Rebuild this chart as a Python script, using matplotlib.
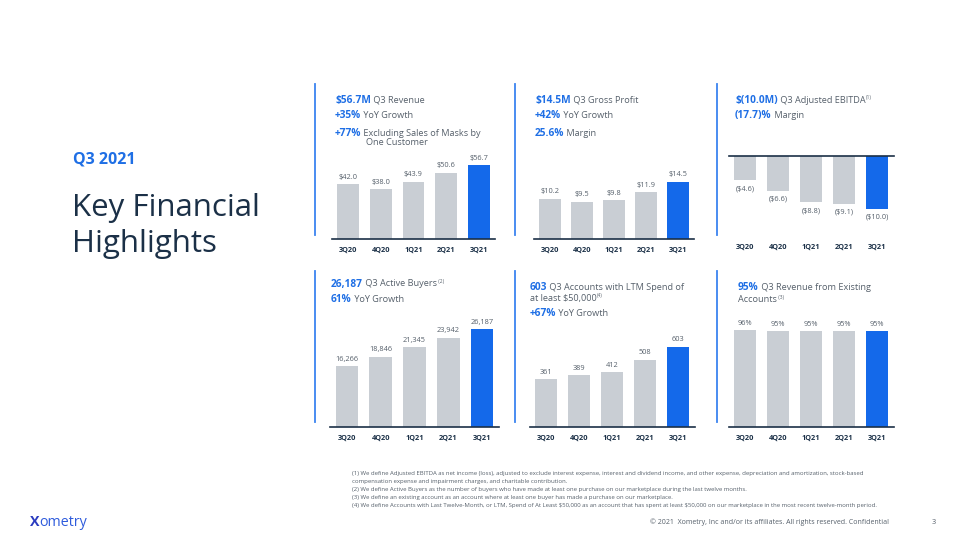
"""Q3 2021 key financial highlights: six small bar panels with headline text."""
import matplotlib
matplotlib.use("Agg")
import matplotlib.pyplot as plt
from matplotlib.lines import Line2D

plt.rcParams["font.family"] = ["Open Sans", "DejaVu Sans"]
plt.rcParams["text.parse_math"] = False

W, H = 960, 540

quarters = ["3Q20", "4Q20", "1Q21", "2Q21", "3Q21"]
revenue = [42.0, 38.0, 43.9, 50.6, 56.7]
gross_profit = [10.2, 9.5, 9.8, 11.9, 14.5]
adj_ebitda = [-4.6, -6.6, -8.8, -9.1, -10.0]
active_buyers = [16266, 18846, 21345, 23942, 26187]
accounts_50k = [361, 389, 412, 508, 603]
existing_share = [96, 95, 95, 95, 95]

footnotes = [
    "(1) We define Adjusted EBITDA as net income (loss), adjusted to exclude interest expense, interest and dividend income, and other expense, depreciation and amortization, stock-based",
    "compensation expense and impairment charges, and charitable contribution.",
    "(2) We define Active Buyers as the number of buyers who have made at least one purchase on our marketplace during the last twelve months.",
    "(3) We define an existing account as an account where at least one buyer has made a purchase on our marketplace.",
    "(4) We define Accounts with Last Twelve-Month, or LTM, Spend of At Least $50,000 as an account that has spent at least $50,000 on our marketplace in the most recent twelve-month period.",
]

GREY = "#c9ced4"
BLUE = "#1469ea"
NAVY = "#1b3047"
ACCENT = "#1f6fe5"
TEXT = "#56606b"
RULE = "#3b84f0"

fig = plt.figure(figsize=(9.6, 5.4), dpi=100)
renderer = fig.canvas.get_renderer()


def fx(x):
    return x / W


def fy(y):
    return 1 - y / H


def rich(x, y, parts):
    """Draw text pieces one after another on a baseline at pixel (x, y)."""
    for s, color, weight, size, rise in parts:
        t = fig.text(fx(x), fy(y - rise), s, color=color, fontweight=weight,
                     fontsize=size, va="baseline", ha="left")
        x += t.get_window_extent(renderer).width


def panel(cx0, cx4, y_top, y_bot, values, labels, ylim, pad, negative=False):
    step = (cx4 - cx0) / 4
    left = cx0 - step / 2
    ax = fig.add_axes([fx(left), fy(y_bot), 5 * step / W, (y_bot - y_top) / H])
    colors = [GREY] * 4 + [BLUE]
    bars = ax.bar(range(5), values, width=0.67, color=colors)
    ax.bar_label(bars, labels=labels, padding=3.5 if negative else 2.5,
                 fontsize=5.3, color=TEXT)
    ax.set_xlim(-0.5, 4.5)
    ax.set_ylim(*ylim)
    ax.set_xticks(range(5), quarters, fontsize=5.3, fontweight="bold", color=NAVY)
    ax.tick_params(axis="x", length=0, pad=pad)
    ax.set_yticks([])
    for side in ["left", "right", "top", "bottom"]:
        ax.spines[side].set_visible(False)
    line = "top" if negative else "bottom"
    ax.spines[line].set_visible(True)
    ax.spines[line].set_color(NAVY)
    ax.spines[line].set_linewidth(1.2)
    ax.patch.set_alpha(0)
    return ax


# left title block
fig.text(fx(73), fy(159), "Q3 2021", color=ACCENT, fontsize=11.5, fontweight="bold", va="center")
fig.text(fx(72), fy(216), "Key Financial", color=NAVY, fontsize=22.5, va="baseline")
fig.text(fx(72), fy(252), "Highlights", color=NAVY, fontsize=22.5, va="baseline")

# accent rules left of each panel
for x, y0, y1 in [(315, 84, 235), (515, 84, 235), (717, 84, 235),
                  (315, 271, 422), (515, 271, 422), (717, 271, 422)]:
    fig.add_artist(Line2D([fx(x), fx(x)], [fy(y0), fy(y1)], color=RULE, lw=1.3))

B, N = 7.3, 6.6
# panel headers
rich(335, 102.5, [("$56.7M", ACCENT, "bold", B, 0), (" Q3 Revenue", TEXT, "normal", N, 0)])
rich(335, 118, [("+35%", ACCENT, "bold", B, 0), (" YoY Growth", TEXT, "normal", N, 0)])
rich(335, 135.5, [("+77%", ACCENT, "bold", B, 0), (" Excluding Sales of Masks by", TEXT, "normal", N, 0)])
rich(366, 145.5, [("One Customer", TEXT, "normal", N, 0)])

rich(535, 102.5, [("$14.5M", ACCENT, "bold", B, 0), (" Q3 Gross Profit", TEXT, "normal", N, 0)])
rich(535, 118, [("+42%", ACCENT, "bold", B, 0), (" YoY Growth", TEXT, "normal", N, 0)])
rich(535, 135.5, [("25.6%", ACCENT, "bold", B, 0), (" Margin", TEXT, "normal", N, 0)])

rich(735, 102.5, [("$(10.0M)", ACCENT, "bold", B, 0), (" Q3 Adjusted EBITDA", TEXT, "normal", N, 0),
                  ("(1)", TEXT, "normal", 3.5, 3)])
rich(735, 118, [("(17.7)%", ACCENT, "bold", B, 0), (" Margin", TEXT, "normal", N, 0)])

rich(331, 286.5, [("26,187", ACCENT, "bold", B, 0), (" Q3 Active Buyers", TEXT, "normal", N, 0),
                  (" (2)", TEXT, "normal", 3.5, 3)])
rich(331, 302.5, [("61%", ACCENT, "bold", B, 0), (" YoY Growth", TEXT, "normal", N, 0)])

rich(530, 290, [("603", ACCENT, "bold", B, 0), (" Q3 Accounts with LTM Spend of", TEXT, "normal", N, 0)])
rich(530, 300.5, [("at least $50,000", TEXT, "normal", N, 0), ("(4)", TEXT, "normal", 3.5, 3)])
rich(530, 316.5, [("+67%", ACCENT, "bold", B, 0), (" YoY Growth", TEXT, "normal", N, 0)])

rich(738, 290.5, [("95%", ACCENT, "bold", B, 0), (" Q3 Revenue from Existing", TEXT, "normal", N, 0)])
rich(738, 301.5, [("Accounts", TEXT, "normal", N, 0), (" (3)", TEXT, "normal", 3.5, 3)])

# bar panels
panel(348, 479, 150, 239, revenue, [f"${v:.1f}" for v in revenue], (0, 68.2), 6)
panel(550, 678, 150, 239, gross_profit, [f"${v:.1f}" for v in gross_profit], (0, 22.6), 6)
panel(745, 877, 156, 239, adj_ebitda, [f"(${-v:.1f})" for v in adj_ebitda], (-15.8, 0), 3.2,
      negative=True)
panel(347, 482, 320, 427, active_buyers, [f"{v:,}" for v in active_buyers], (0, 28686), 5.4)
panel(546, 678, 320, 427, accounts_50k, [f"{v}" for v in accounts_50k], (0, 806), 5.4)
panel(745, 877, 320, 427, existing_share, [f"{v}%" for v in existing_share], (0, 106), 5.6)

# footnotes
for i, line in enumerate(footnotes):
    fig.text(fx(352), fy(473 + 8 * i), line, color=TEXT, fontsize=4.35, va="center")

# footer
rich(30, 526, [("X", "#2a3bbf", "bold", 10.3, 0), ("ometry", "#2e5bdc", "normal", 10.3, 0)])
fig.text(fx(650), fy(522), "\u00a9 2021  Xometry, Inc and/or its affiliates. All rights reserved. Confidential",
         color=TEXT, fontsize=5.0, va="center")
fig.text(fx(932), fy(522), "3", color=TEXT, fontsize=5.2, va="center")

fig.savefig("out.png", dpi=100)
